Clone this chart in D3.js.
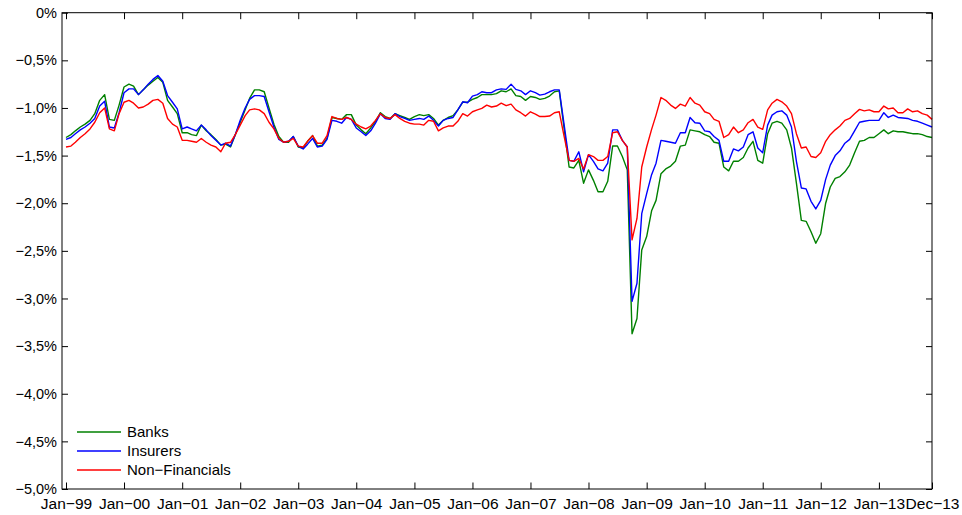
<!DOCTYPE html>
<html>
<head>
<meta charset="utf-8">
<script src="https://cdn.jsdelivr.net/npm/d3@7"></script>
<style>
  body { margin: 0; background: #fff; }
  svg text { font-family: "Liberation Sans", Arial, Helvetica, sans-serif; fill: #000; }
</style>
</head>
<body>
<div id="chart"></div>
<script>
// monthly series, Jan-99 .. Dec-13 (one row per year)
const banks = [
  -1.31, -1.28, -1.24, -1.20, -1.17, -1.13, -1.06, -0.92, -0.86, -1.12, -1.13, -0.97,
  -0.78, -0.75, -0.77, -0.86, -0.81, -0.76, -0.72, -0.68, -0.73, -0.92, -0.99, -1.06,
  -1.26, -1.26, -1.28, -1.29, -1.18, -1.24, -1.28, -1.33, -1.39, -1.38, -1.41, -1.28,
  -1.15, -1.02, -0.90, -0.81, -0.81, -0.83, -1.00, -1.17, -1.30, -1.36, -1.36, -1.30,
  -1.41, -1.42, -1.35, -1.29, -1.40, -1.39, -1.32, -1.10, -1.11, -1.12, -1.07, -1.07,
  -1.18, -1.23, -1.27, -1.21, -1.14, -1.05, -1.09, -1.11, -1.06, -1.08, -1.10, -1.12,
  -1.09, -1.07, -1.08, -1.07, -1.11, -1.18, -1.13, -1.10, -1.08, -1.02, -0.94, -0.94,
  -0.91, -0.89, -0.86, -0.86, -0.86, -0.85, -0.82, -0.83, -0.80, -0.87, -0.88, -0.92,
  -0.88, -0.89, -0.91, -0.90, -0.875, -0.83, -0.82, -1.22, -1.62, -1.63, -1.55, -1.79,
  -1.65, -1.76, -1.88, -1.88, -1.77, -1.40, -1.40, -1.51, -1.65, -3.37, -3.21, -2.49,
  -2.35, -2.08, -1.97, -1.69, -1.64, -1.61, -1.56, -1.40, -1.39, -1.23, -1.24, -1.25,
  -1.28, -1.30, -1.36, -1.37, -1.62, -1.66, -1.56, -1.56, -1.52, -1.42, -1.35, -1.55,
  -1.58, -1.27, -1.16, -1.14, -1.16, -1.23, -1.42, -1.79, -2.18, -2.19, -2.30, -2.42,
  -2.32, -2.00, -1.83, -1.74, -1.72, -1.67, -1.60, -1.47, -1.35, -1.34, -1.31, -1.31,
  -1.27, -1.23, -1.27, -1.24, -1.25, -1.25, -1.26, -1.27, -1.27, -1.28, -1.30, -1.31
];
const insurers = [
  -1.33, -1.31, -1.27, -1.23, -1.20, -1.16, -1.11, -0.98, -0.93, -1.20, -1.21, -1.05,
  -0.84, -0.80, -0.80, -0.86, -0.81, -0.75, -0.70, -0.66, -0.72, -0.87, -0.94, -1.01,
  -1.22, -1.20, -1.22, -1.24, -1.18, -1.23, -1.29, -1.34, -1.39, -1.37, -1.40, -1.28,
  -1.13, -1.00, -0.91, -0.87, -0.87, -0.88, -1.04, -1.20, -1.33, -1.36, -1.35, -1.30,
  -1.40, -1.43, -1.38, -1.32, -1.41, -1.40, -1.33, -1.13, -1.14, -1.16, -1.10, -1.12,
  -1.21, -1.25, -1.29, -1.24, -1.16, -1.06, -1.11, -1.12, -1.06, -1.09, -1.11, -1.13,
  -1.12, -1.11, -1.12, -1.085, -1.13, -1.19, -1.13, -1.11, -1.10, -1.02, -0.935, -0.945,
  -0.875, -0.86, -0.83, -0.84, -0.84, -0.81, -0.80, -0.805, -0.75, -0.805, -0.82, -0.86,
  -0.82, -0.84, -0.865, -0.855, -0.83, -0.81, -0.81, -1.18, -1.55, -1.56, -1.46, -1.67,
  -1.49, -1.56, -1.64, -1.66, -1.58, -1.23, -1.23, -1.34, -1.41, -3.03, -2.84, -2.11,
  -1.90, -1.70, -1.58, -1.34, -1.35, -1.36, -1.37, -1.26, -1.26, -1.10, -1.155, -1.16,
  -1.24, -1.25, -1.30, -1.34, -1.56, -1.56, -1.43, -1.45, -1.41, -1.28, -1.25, -1.42,
  -1.47, -1.18, -1.075, -1.04, -1.03, -1.075, -1.20, -1.56, -1.84, -1.85, -1.98, -2.06,
  -1.97, -1.75, -1.60, -1.50, -1.45, -1.37, -1.33, -1.24, -1.15, -1.14, -1.13, -1.13,
  -1.13, -1.05, -1.10, -1.075, -1.10, -1.105, -1.11, -1.13, -1.14, -1.16, -1.18, -1.20
];
const nonFinancials = [
  -1.41, -1.40, -1.36, -1.31, -1.27, -1.22, -1.15, -1.05, -1.00, -1.22, -1.24, -1.06,
  -0.94, -0.92, -0.95, -1.00, -0.99, -0.96, -0.92, -0.91, -0.95, -1.11, -1.17, -1.20,
  -1.34, -1.34, -1.35, -1.36, -1.32, -1.36, -1.39, -1.41, -1.46, -1.37, -1.36, -1.28,
  -1.18, -1.08, -1.02, -1.01, -1.02, -1.06, -1.15, -1.22, -1.32, -1.36, -1.35, -1.32,
  -1.40, -1.41, -1.35, -1.29, -1.37, -1.37, -1.29, -1.09, -1.11, -1.12, -1.10, -1.12,
  -1.17, -1.20, -1.22, -1.19, -1.13, -1.06, -1.10, -1.11, -1.07, -1.11, -1.14, -1.16,
  -1.17, -1.17, -1.18, -1.13, -1.14, -1.24, -1.21, -1.19, -1.19, -1.14, -1.06, -1.085,
  -1.04, -1.02, -1.005, -0.97, -0.99, -0.98, -0.95, -0.976, -0.96, -1.02, -1.05, -1.085,
  -1.04, -1.064, -1.09, -1.09, -1.085, -1.05, -1.04, -1.30, -1.55, -1.56, -1.53, -1.64,
  -1.49, -1.51, -1.55, -1.55, -1.51, -1.26, -1.25, -1.34, -1.41, -2.385, -2.16, -1.62,
  -1.41, -1.225, -1.075, -0.89, -0.92, -0.97, -1.005, -0.96, -0.98, -0.89, -0.95, -0.97,
  -1.04, -1.06, -1.12, -1.14, -1.31, -1.28, -1.20, -1.26, -1.23, -1.155, -1.12, -1.20,
  -1.225, -1.02, -0.95, -0.91, -0.935, -0.98, -1.06, -1.27, -1.42, -1.41, -1.51, -1.52,
  -1.47, -1.35, -1.28, -1.23, -1.19, -1.13, -1.11, -1.06, -1.015, -1.03, -1.02, -1.04,
  -1.04, -0.98, -1.01, -1.00, -1.05, -1.05, -1.01, -1.04, -1.03, -1.06, -1.075, -1.12
];

const seriesNames = ["Banks", "Insurers", "Non\u2212Financials"];
const seriesColors = ["#008000", "#0000ff", "#ff0000"];

const xTickLabels = ["Jan\u221299", "Jan\u221200", "Jan\u221201", "Jan\u221202", "Jan\u221203",
  "Jan\u221204", "Jan\u221205", "Jan\u221206", "Jan\u221207", "Jan\u221208", "Jan\u221209",
  "Jan\u221210", "Jan\u221211", "Jan\u221212", "Jan\u221213", "Dec\u221213"];
const xTickMonths = [0, 12, 24, 36, 48, 60, 72, 84, 96, 108, 120, 132, 144, 156, 168, 179];
const yTicks = [0, -0.5, -1, -1.5, -2, -2.5, -3, -3.5, -4, -4.5, -5];
const yTickLabels = ["0%", "\u22120,5%", "\u22121,0%", "\u22121,5%", "\u22122,0%", "\u22122,5%",
  "\u22123,0%", "\u22123,5%", "\u22124,0%", "\u22124,5%", "\u22125,0%"];

const width = 962, height = 515;
const box = { left: 62, right: 932, top: 12.7, bottom: 489 };

const months = d3.timeMonth.range(new Date(1999, 0, 1), new Date(2014, 0, 1));

const svg = d3.select("#chart").append("svg")
  .attr("width", width)
  .attr("height", height);

const x = d3.scaleTime()
  .domain([months[0], months[179]])
  .range([66, box.right]);

const y = d3.scaleLinear()
  .domain([-5, 0])
  .range([box.bottom, box.top]);

// x axes (bottom with labels, top mirrored)
svg.append("g")
  .attr("transform", `translate(0,${box.bottom})`)
  .style("font-size", "15.5px")
  .call(d3.axisBottom(x)
    .tickValues(xTickMonths.map((m) => months[m]))
    .tickFormat((d, i) => xTickLabels[i])
    .tickSizeInner(-6.5).tickSizeOuter(0).tickPadding(9))
  .call((g) => g.select(".domain").remove())
  .call((g) => g.selectAll("text").attr("font-family", null));

svg.append("g")
  .attr("transform", `translate(0,${box.top})`)
  .call(d3.axisTop(x)
    .tickValues(xTickMonths.map((m) => months[m]))
    .tickFormat("")
    .tickSizeInner(-6.5).tickSizeOuter(0))
  .call((g) => g.select(".domain").remove());

// y axes (left with labels, right mirrored)
svg.append("g")
  .attr("transform", `translate(${box.left},0)`)
  .style("font-size", "14.5px")
  .call(d3.axisLeft(y)
    .tickValues(yTicks)
    .tickFormat((d, i) => yTickLabels[i])
    .tickSizeInner(-6).tickSizeOuter(0).tickPadding(5))
  .call((g) => g.select(".domain").remove())
  .call((g) => g.selectAll("text").attr("font-family", null));

svg.append("g")
  .attr("transform", `translate(${box.right},0)`)
  .call(d3.axisRight(y)
    .tickValues(yTicks)
    .tickFormat("")
    .tickSizeInner(-6).tickSizeOuter(0))
  .call((g) => g.select(".domain").remove());

svg.selectAll(".tick line").attr("stroke", "#000");

// lines
const line = d3.line()
  .x((d, i) => x(months[i]))
  .y((d) => y(d));

[banks, insurers, nonFinancials].forEach((s, k) => {
  svg.append("path")
    .datum(s)
    .attr("fill", "none")
    .attr("stroke", seriesColors[k])
    .attr("stroke-width", 1.4)
    .attr("stroke-linejoin", "round")
    .attr("d", line);
});

// frame
svg.append("rect")
  .attr("x", box.left)
  .attr("y", box.top)
  .attr("width", box.right - box.left)
  .attr("height", box.bottom - box.top)
  .attr("fill", "none")
  .attr("stroke", "#000")
  .attr("stroke-width", 1);

// legend
const legend = svg.append("g").attr("transform", "translate(77,432)");
seriesNames.forEach((name, k) => {
  const row = legend.append("g").attr("transform", `translate(0,${k * 19})`);
  row.append("line")
    .attr("x1", 0).attr("x2", 44)
    .attr("y1", 0).attr("y2", 0)
    .attr("stroke", seriesColors[k])
    .attr("stroke-width", 1.3);
  row.append("text")
    .attr("x", 50)
    .attr("dy", "0.35em")
    .style("font-size", "15px")
    .text(name);
});
</script>
</body>
</html>
